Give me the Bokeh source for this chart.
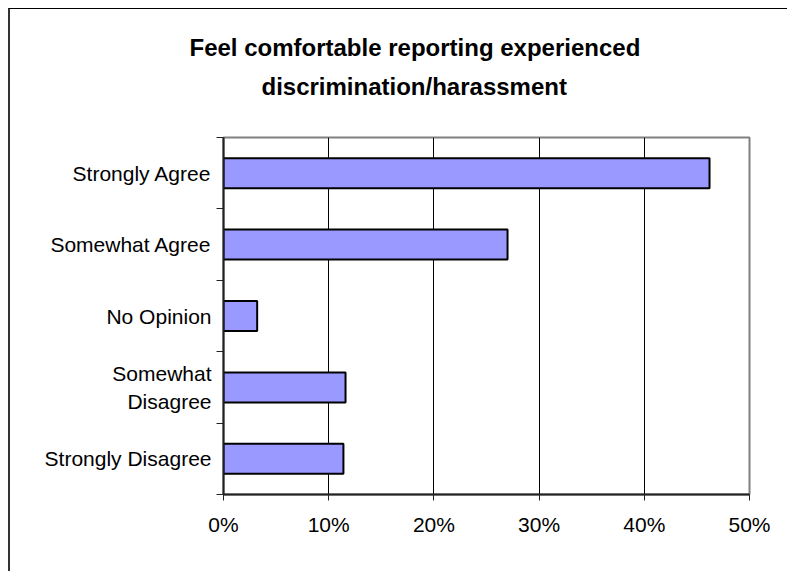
from bokeh.plotting import figure
from bokeh.models import FixedTicker, NumeralTickFormatter, Title, Range1d
from bokeh.embed import file_html
from bokeh.resources import INLINE

categories = ["Strongly Agree", "Somewhat Agree", "No Opinion", "Somewhat Disagree", "Strongly Disagree"]
category_labels = ["Strongly Agree", "Somewhat Agree", "No Opinion", "Somewhat\nDisagree", "Strongly Disagree"]
values = [0.462, 0.270, 0.032, 0.116, 0.114]
x_ticks = [0.0, 0.1, 0.2, 0.3, 0.4, 0.5]
title_lines = ["Feel comfortable reporting experienced", "discrimination/harassment"]

n = len(categories)
ypos = [n - i - 0.5 for i in range(n)]

W, H = 777, 562
FL, FT, FW, FH = 213, 128, 526, 357
p = figure(width=W, height=H, output_backend="svg", toolbar_location=None, title=None,
           x_range=Range1d(0, 0.5), y_range=Range1d(0, n),
           frame_width=FW, frame_height=FH,
           min_border_left=FL, min_border_top=FT,
           min_border_right=W - FL - FW, min_border_bottom=H - FT - FH)
p.styles = {"margin-left": "8px", "margin-top": "8px",
            "border-left": "2px solid #333333", "border-top": "1px solid #000000"}
p.background_fill_color = "white"
p.border_fill_color = "white"
p.outline_line_color = "#808080"
p.outline_line_width = 2

p.hbar(y=ypos, left=0, right=values, height=0.42, fill_color="#9999FF",
       line_color="black", line_width=2)

# x axis
p.xaxis.ticker = FixedTicker(ticks=x_ticks)
p.xaxis.formatter = NumeralTickFormatter(format="0%")
p.xaxis.axis_line_color = "#222222"
p.xaxis.axis_line_width = 2
p.xaxis.major_tick_line_color = "#222222"
p.xaxis.major_tick_out = 6
p.xaxis.major_tick_in = 0
p.xaxis.minor_tick_line_color = None
p.xaxis.major_label_text_font = "Liberation Sans"
p.xaxis.major_label_text_font_size = "21px"
p.xaxis.major_label_text_color = "black"
p.xaxis.major_label_standoff = 12

# y axis: labels at category centres, ticks at boundaries
p.yaxis.ticker = FixedTicker(ticks=ypos, minor_ticks=list(range(n + 1)))
p.yaxis.major_label_overrides = {y: lab for y, lab in zip(ypos, category_labels)}
p.yaxis.axis_line_color = "#222222"
p.yaxis.axis_line_width = 2
p.yaxis.major_tick_line_color = None
p.yaxis.major_tick_out = 7
p.yaxis.major_tick_in = 0
p.yaxis.minor_tick_line_color = "#222222"
p.yaxis.minor_tick_out = 7
p.yaxis.minor_tick_in = 0
p.yaxis.major_label_text_font = "Liberation Sans"
p.yaxis.major_label_text_font_size = "21px"
p.yaxis.major_label_text_color = "black"
p.yaxis.major_label_standoff = 5

p.xgrid.ticker = FixedTicker(ticks=x_ticks)
p.xgrid.grid_line_color = "black"
p.xgrid.grid_line_width = 1
p.ygrid.grid_line_color = None

# spacer between the plot area and the two-line title
p.add_layout(Title(text=" ", text_font_size="2px", standoff=29), "above")
# title: two lines, second line added first (closest to the plot)
title_offsets = [-34, 38]
for line, off in reversed(list(zip(title_lines, title_offsets))):
    p.add_layout(Title(text=line, text_font="Liberation Sans", text_font_style="bold",
                       text_font_size="24px", align="left", offset=off,
                       text_color="black", standoff=10), "above")

open("out.html", "w").write(file_html(p, INLINE))
